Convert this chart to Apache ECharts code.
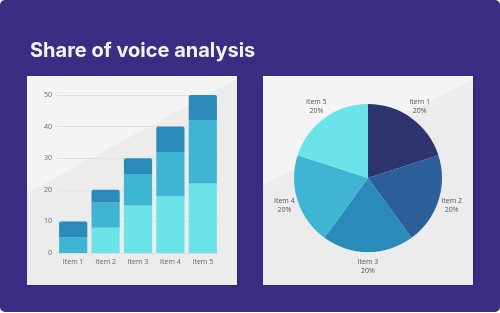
<!DOCTYPE html>
<html>
<head>
<meta charset="utf-8">
<script src="https://cdn.jsdelivr.net/npm/echarts@6/dist/echarts.min.js"></script>
<style>
  html, body { margin: 0; padding: 0; background: #fff; }
  #main { width: 500px; height: 313px; }
</style>
</head>
<body>
<div id="main"></div>
<script>
  // 数据
  const categories = ['Item 1', 'Item 2', 'Item 3', 'Item 4', 'Item 5']
  const seriesLow = [0, 8, 15, 18, 22]
  const seriesMid = [5, 8, 10, 14, 20]
  const seriesTop = [5, 4, 5, 8, 8]
  const pieNames = ['Item 1', 'Item 2', 'Item 3', 'Item 4', 'Item 5']
  const pieValues = [20, 20, 20, 20, 20]

  const barColors = ['#6ae4e8', '#3fb5d4', '#2a8ab9']
  const pieColors = ['#2e3470', '#2b5f9a', '#2a8ab9', '#3fb5d4', '#6ae4e8']

  const labelColor = '#666'
  const font = 'Open Sans'

  let myChart = echarts.init(document.getElementById('main'))

  function panel(x, y, w, h, yl, yr) {
    return [{
      type: 'rect',
      shape: { x: x, y: y, width: w, height: h },
      style: { fill: '#ececec', shadowColor: 'rgba(0,0,0,0.25)', shadowBlur: 2, shadowOffsetX: 1, shadowOffsetY: 1 },
      z: -9
    }, {
      type: 'polygon',
      shape: { points: [[x, y], [x + w, y], [x + w, yr], [x, yl]] },
      style: { fill: '#f4f4f4' },
      z: -8
    }]
  }

  const pieData = pieNames.map((n, i) => ({ name: n, value: pieValues[i], itemStyle: { color: pieColors[i] } }))

  const barSeries = [seriesLow, seriesMid, seriesTop].map((d, i) => ({
    type: 'bar',
    stack: 'total',
    barWidth: '87%',
    data: d.map(v => ({
      value: v,
      itemStyle: { borderRadius: i === 2 ? [2, 2, 0, 0] : 0 }
    })),
    itemStyle: { color: barColors[i] },
    emphasis: { disabled: true }
  }))

  myChart.setOption({
    animation: false,
    title: {
      text: 'Share of voice analysis',
      left: 25,
      top: 36,
      textStyle: { color: '#f7f2ea', fontSize: 20, fontWeight: 'bold', fontFamily: 'Inter' }
    },
    graphic: [{
      type: 'rect',
      shape: { x: 0, y: 0, width: 500, height: 312, r: 5 },
      style: { fill: '#3a2d84' },
      z: -10
    }].concat(panel(27, 76, 210, 209, 193, 79)).concat(panel(263, 76, 210, 209, 185, 80)),
    grid: { left: 57, right: 281, top: 95, bottom: 60 },
    xAxis: {
      type: 'category',
      data: categories,
      axisLine: { show: false },
      axisTick: { show: false },
      axisLabel: { color: labelColor, fontSize: 7, fontFamily: font, margin: 5 }
    },
    yAxis: {
      type: 'value',
      min: 0,
      max: 50,
      interval: 10,
      axisLine: { show: false },
      axisTick: { show: false },
      splitLine: { lineStyle: { color: '#e0e0e0', width: 1 } },
      axisLabel: { color: labelColor, fontSize: 7, fontFamily: font, margin: 5 }
    },
    series: barSeries.concat([{
      type: 'pie',
      center: [368, 178],
      radius: 74,
      startAngle: 90,
      label: { show: false },
      labelLine: { show: false },
      emphasis: { disabled: true },
      data: pieData
    }, {
      // 透明环，只放标签
      type: 'pie',
      center: [368, 178],
      radius: [76, 94],
      startAngle: 90,
      silent: true,
      itemStyle: { color: 'transparent' },
      label: {
        position: 'inside',
        formatter: '{b}\n{d}%',
        color: '#555',
        fontSize: 7,
        lineHeight: 9,
        fontFamily: font
      },
      labelLine: { show: false },
      data: pieNames.map((n, i) => ({ name: n, value: pieValues[i] }))
    }])
  })
</script>
</body>
</html>
